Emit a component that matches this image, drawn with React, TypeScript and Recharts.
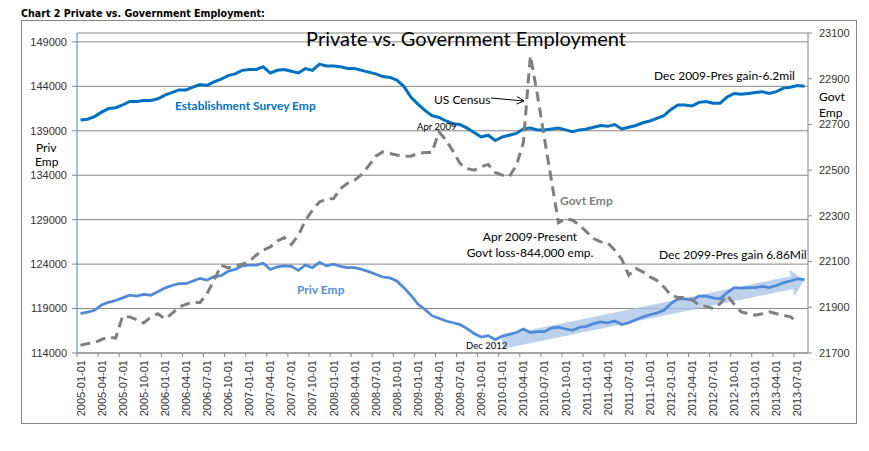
import { LineChart, Line, XAxis, YAxis, CartesianGrid, ReferenceLine } from 'recharts'

// monthly categories, Jan 2005 .. Aug 2013
const months: string[] = []
for (let y = 2005; y <= 2013; y++) {
  for (let m = 1; m <= 12; m++) {
    if (y === 2013 && m > 8) break
    months.push(`${y}-${String(m).padStart(2, '0')}-01`)
  }
}

// Establishment Survey Emp (left axis)
const estEmp = [
  140200, 140300, 140600, 141100, 141500, 141600, 141900, 142300, 142300, 142400, 142400, 142600,
  143000, 143300, 143600, 143600, 143900, 144200, 144100, 144500, 144800, 145200, 145400, 145800,
  145900, 145900, 146200, 145500, 145800, 145900, 145700, 145500, 146000, 145800, 146500, 146300,
  146300, 146200, 146000, 146000, 145800, 145600, 145400, 145100, 145000, 144700, 144000, 142800,
  142000, 141300, 140700, 140500, 140100, 139800, 139700, 139300, 138800, 138300, 138500, 137900,
  138300, 138500, 138700, 139200, 139300, 139100, 139100, 139200, 139300, 139100, 138900, 139100,
  139200, 139400, 139600, 139500, 139700, 139200, 139400, 139600, 139900, 140100, 140400, 140700,
  141400, 141900, 141900, 141800, 142200, 142300, 142100, 142100, 142800, 143200, 143100, 143200,
  143300, 143400, 143200, 143400, 143800, 143900, 144100, 144000,
]

// Priv Emp (left axis)
const privEmp = [
  118430, 118600, 118800, 119400, 119700, 119900, 120200, 120500, 120400, 120600, 120500, 120900,
  121300, 121600, 121800, 121800, 122100, 122400, 122200, 122600, 122700, 123200, 123400, 123800,
  123900, 123900, 124100, 123400, 123700, 123800, 123750, 123300, 123900, 123600, 124200, 123800,
  124000, 123750, 123600, 123600, 123400, 123150, 122850, 122550, 122450, 122100, 121350, 120500,
  119500, 118900, 118200, 117900, 117600, 117400, 117200, 116750, 116200, 115800, 115950, 115500,
  115900, 116100, 116300, 116700, 116300, 116400, 116400, 116800, 116900, 116700, 116550, 116900,
  117000, 117300, 117500, 117400, 117600, 117200, 117400, 117750, 118050, 118300, 118500, 118800,
  119550, 120100, 120100, 119950, 120400, 120400, 120200, 120100, 120800, 121350, 121300, 121350,
  121350, 121500, 121350, 121600, 121900, 122100, 122350, 122250,
]

// Govt Emp (right axis)
const govtEmp: (number | null)[] = [
  21734, 21741, 21745, 21759, 21770, 21765, 21861, 21858, 21846, 21831, 21858, 21872,
  21849, 21872, 21901, 21913, 21923, 21920, 21960, 22018, 22084, 22072, 22081, 22088,
  22101, 22128, 22150, 22164, 22190, 22205, 22175, 22215, 22281, 22325, 22361, 22373,
  22376, 22420, 22442, 22456, 22481, 22519, 22561, 22580, 22573, 22566, 22561, 22561,
  22573, 22577, 22577, 22668, 22631, 22583, 22529, 22507, 22500, 22515, 22525, 22490,
  22478, 22472, 22520, 22620, 23000, 22830, 22640, 22455, 22270, 22288, 22281, 22259,
  22230, 22201, 22186, 22182, 22150, 22110, 22040, 22070, 22055, 22033, 22018, 21989,
  21953, 21943, 21943, 21934, 21909, 21904, 21894, 21916, 21953, 21913, 21880, 21872,
  21865, 21872, 21880, 21872, 21865, 21858, 21836, null,
]

const leftTicks = [114000, 119000, 124000, 129000, 134000, 139000, 144000, 149000]
const rightTicks = [21700, 21900, 22100, 22300, 22500, 22700, 22900, 23100]

// trend arrow drawn along the private recovery
const trendStart = { x: '2010-01-01', y: 115200 }
const trendEnd = { x: '2013-08-01', y: 122200 }

const data = months.map((month, i) => ({
  month,
  est: estEmp[i],
  priv: privEmp[i],
  govt: govtEmp[i],
}))

const AXIS_FONT = 'Liberation Sans, Arial, sans-serif'
const NOTE_FONT = 'Lato, Carlito, Calibri, sans-serif'

function MonthTick(props: any) {
  const { x, y, payload } = props
  return (
    <g transform={`translate(${x},${y})`}>
      <line x1={-3.5} x2={-3.5} y1={-7} y2={-3} stroke="#868686" />
      <text
        transform="rotate(-90)"
        x={0}
        y={4}
        textAnchor="end"
        fontSize={11}
        fontFamily={AXIS_FONT}
        fill="#333"
      >
        {payload.value}
      </text>
    </g>
  )
}

function TrendArrow(props: any) {
  const { x1, y1, x2, y2 } = props
  if (x1 == null || x2 == null) return null
  const dx = x2 - x1
  const dy = y2 - y1
  const len = Math.hypot(dx, dy)
  const ux = dx / len
  const uy = dy / len
  const nx = -uy
  const ny = ux
  const body = 6.5
  const head = 13.5
  const headLen = 13
  const bx = x2 - ux * headLen
  const by = y2 - uy * headLen
  const pts = [
    [x1 + nx * body, y1 + ny * body],
    [bx + nx * body, by + ny * body],
    [bx + nx * head, by + ny * head],
    [x2, y2],
    [bx - nx * head, by - ny * head],
    [bx - nx * body, by - ny * body],
    [x1 - nx * body, y1 - ny * body],
  ]
  return (
    <polygon
      points={pts.map((p) => p.join(',')).join(' ')}
      fill="#a7c2e6"
      fillOpacity={0.75}
    />
  )
}

export default function App() {
  return (
    <div style={{ position: 'absolute', left: 0, top: 0, width: 869, height: 451, background: '#fff' }}>
      <LineChart
        width={869}
        height={451}
        data={data}
        margin={{ top: 33, right: 18, bottom: 28, left: 22 }}
      >
        <CartesianGrid yAxisId="left" vertical={false} stroke="#868686" />
        <XAxis
          dataKey="month"
          interval={2}
          height={70}
          tickSize={4}
          tickMargin={3}
          tickLine={false}
          padding={{ left: 3.5, right: 3.5 }}
          axisLine={{ stroke: '#868686' }}
          tick={<MonthTick />}
        />
        <YAxis
          yAxisId="left"
          domain={[114000, 150000]}
          ticks={leftTicks}
          allowDataOverflow
          width={55}
          tickSize={5}
          tickMargin={5}
          axisLine={{ stroke: '#4a7ebb' }}
          tickLine={{ stroke: '#868686' }}
          tick={{ fontSize: 11, fill: '#333', fontFamily: AXIS_FONT }}
        />
        <YAxis
          yAxisId="right"
          orientation="right"
          domain={[21700, 23100]}
          ticks={rightTicks}
          allowDataOverflow
          width={43}
          tickSize={4}
          tickMargin={7}
          axisLine={{ stroke: '#868686' }}
          tickLine={{ stroke: '#868686' }}
          tick={{ fontSize: 11, fill: '#333', fontFamily: AXIS_FONT, textAnchor: 'start' }}
        />
        <ReferenceLine
          yAxisId="left"
          segment={[trendStart, trendEnd]}
          ifOverflow="visible"
          shape={<TrendArrow />}
        />
        <Line yAxisId="left" type="linear" dataKey="est" stroke="#0070c0" strokeWidth={3} dot={false} isAnimationActive={false} />
        <Line yAxisId="left" type="linear" dataKey="priv" stroke="#4f8ad8" strokeWidth={2.75} dot={false} isAnimationActive={false} />
        <Line yAxisId="right" type="linear" dataKey="govt" stroke="#7f7f7f" strokeWidth={3} strokeDasharray="10 6" dot={false} isAnimationActive={false} />
      </LineChart>

      <svg width={869} height={451} style={{ position: 'absolute', left: 0, top: 0, pointerEvents: 'none' }}>
        <rect x={21.5} y={20.5} width={835} height={403} fill="none" stroke="#868686" />
        <text x={21} y={17} fontSize={10.6} fontWeight="bold" fontFamily="DejaVu Sans Condensed, Liberation Sans, sans-serif" fill="#000">
          Chart 2 Private vs. Government Employment:
        </text>
        <text x={466} y={46} textAnchor="middle" fontSize={20} fontFamily={NOTE_FONT} fill="#000">
          Private vs. Government Employment
        </text>

        <g fontFamily={NOTE_FONT} fontSize={12} fill="#000">
          <text x={36} y={151.5}>Priv</text>
          <text x={35} y={166}>Emp</text>
          <text x={819} y={101}>Govt</text>
          <text x={819} y={117}>Emp</text>

          <text x={175} y={110} fontWeight="bold" fill="#0070c0">Establishment Survey Emp</text>
          <text x={297} y={294} fontWeight="bold" fill="#558ed5">Priv Emp</text>
          <text x={560} y={205} fontWeight="bold" fill="#7f7f7f">Govt Emp</text>

          <text x={434} y={104}>US Census</text>
          <text x={654} y={80}>Dec 2009-Pres gain-6.2mil</text>
          <text x={530} y={241} textAnchor="middle">Apr 2009-Present</text>
          <text x={530} y={257} textAnchor="middle">Govt loss-844,000 emp.</text>
          <text x={659} y={259}>Dec 2099-Pres gain 6.86Mil</text>

          <text x={417} y={130} fontSize={9.5}>Apr 2009</text>
          <text x={466} y={349} fontSize={9.5}>Dec 2012</text>
        </g>

        <g stroke="#000" strokeWidth={1} fill="none">
          <line x1={491} y1={98} x2={524} y2={101} />
          <polyline points="517,96.5 524,101 516.5,104" />
        </g>
      </svg>
    </div>
  )
}
